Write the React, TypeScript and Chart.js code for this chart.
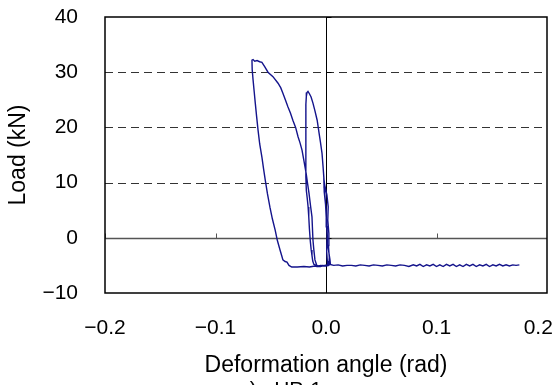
import React, { useEffect, useRef } from 'react';
import { Chart, registerables } from 'chart.js';

Chart.register(...registerables);

const xTickValues = [-0.2, -0.1, 0, 0.1, 0.2];
const xTickLabels = ['−0.2', '−0.1', '0.0', '0.1', '0.2'];
const yTickValues = [-10, 0, 10, 20, 30, 40];
const yTickLabels = ['−10', '0', '10', '20', '30', '40'];
const dashedGridValues = [10, 20, 30];

const xTitle = 'Deformation angle (rad)';
const yTitle = 'Load (kN)';
const caption = 'a)   HP-1';

const deformation = [
  0.004, 0.0036, 0.0027, 0.0018, 0.0012, 0.0009, 0.0002, -0.0009, -0.0014, -0.0018,
  -0.0027, -0.0036, -0.005, -0.0063, -0.008, -0.01, -0.0118, -0.0135, -0.015, -0.0163,
  -0.0172, -0.0178, -0.0182, -0.0183, -0.0183, -0.0182, -0.0181, -0.0178, -0.017, -0.0162,
  -0.0156, -0.015, -0.0142, -0.0134, -0.0127, -0.012, -0.011, -0.009, -0.006, -0.003,
  0.0, 0.0025,
  0.003, 0.0022, 0.0026, 0.0016, 0.002, 0.0008, -0.0012, -0.002, -0.0016, -0.0004,
  0.0004, 0.001, 0.0006, 0.0012, 0.0016,
  -0.002, -0.005, -0.008,
  -0.009, -0.01, -0.011, -0.0118, -0.0127, -0.014, -0.0154, -0.0168, -0.018, -0.02,
  -0.0217, -0.0235, -0.0253, -0.0275, -0.03, -0.0322, -0.0344, -0.0368, -0.039, -0.041,
  -0.0434, -0.048, -0.0525, -0.0555, -0.058, -0.06, -0.0624, -0.0645, -0.066, -0.067,
  -0.0668, -0.066, -0.065, -0.064, -0.0628, -0.0615, -0.06, -0.058, -0.0565, -0.055,
  -0.053, -0.0507, -0.0485, -0.046, -0.044, -0.0416, -0.04, -0.039, -0.037, -0.0353,
  -0.0335, -0.031,
  -0.026, -0.02, -0.015, -0.01, -0.005, -0.001, 0.003, 0.007, 0.011, 0.015,
  0.019, 0.023, 0.027, 0.031, 0.035, 0.039, 0.043, 0.047, 0.051, 0.055,
  0.059, 0.063, 0.067, 0.071, 0.075, 0.079, 0.082, 0.085, 0.088, 0.091,
  0.094, 0.097, 0.1, 0.103, 0.106, 0.109, 0.112, 0.115, 0.118, 0.121,
  0.124, 0.127, 0.13, 0.133, 0.136, 0.139, 0.142, 0.145, 0.148, 0.151,
  0.154, 0.157, 0.16, 0.163, 0.166, 0.169, 0.172, 0.175,
];

const load = [
  -4.8, -4.0, -2.8, -1.6, 0.3, 2.0, 4.8, 7.4, 9.2, 10.5,
  13.0, 15.3, 17.3, 19.0, 21.3, 23.0, 24.4, 25.5, 26.1, 26.5,
  26.3, 25.6, 24.2, 21.0, 17.0, 13.5, 11.0, 8.6, 7.2, 5.6,
  3.8, 1.6, -0.6, -2.2, -3.2, -4.2, -4.8, -5.0, -5.1, -5.0,
  -5.1, -5.0,
  -3.6, -1.4, 0.8, 3.2, 5.6, 7.8, 9.6, 10.8, 8.3, 6.0,
  3.0, 0.2, -2.4, -4.2, -5.0,
  -5.1, -5.0, -5.2,
  -4.6, -4.0, -2.2, -0.4, 3.8, 5.8, 8.1, 10.0, 11.7, 14.0,
  15.9, 17.2, 18.3, 20.0, 21.3, 22.6, 23.7, 25.0, 26.2, 27.2,
  28.0, 29.2, 30.0, 31.0, 31.8, 31.9, 32.1, 32.0, 32.3, 32.2,
  30.5, 28.6, 26.5, 24.4, 22.0, 19.5, 17.0, 14.6, 12.5, 10.5,
  8.0, 5.5, 3.4, 1.4, -0.5, -2.2, -3.3, -4.0, -4.3, -4.4,
  -5.0, -5.3,
  -5.3, -5.2, -5.3, -5.1, -5.2, -5.0, -4.8, -5.0, -4.9, -5.1,
  -5.0, -5.0, -5.1, -4.9, -5.0, -5.1, -4.9, -5.0, -5.1, -4.9,
  -5.0, -5.1, -4.9, -5.0, -5.2, -4.9, -5.1, -4.8, -5.2, -4.9,
  -5.1, -4.8, -5.2, -4.9, -5.2, -4.8, -5.1, -4.8, -5.2, -4.9,
  -5.2, -4.8, -5.1, -4.8, -5.2, -4.9, -5.1, -4.8, -5.2, -4.9,
  -5.1, -4.8, -5.1, -4.9, -5.1, -4.9, -5.0, -4.9,
];

const FONT_FAMILY = '"Liberation Sans", Arial, sans-serif';
const TICK_FONT_SIZE = 21;
const TITLE_FONT_SIZE = 23;

function labelIndex(values: number[], v: number): number {
  for (let i = 0; i < values.length; i++) {
    if (Math.abs(values[i] - v) < 1e-9) return i;
  }
  return -1;
}

function xLabel(v: number): string {
  const i = labelIndex(xTickValues, v);
  if (i < 0) return '';
  // the last label is pulled inside the picture, as in the reference
  return i === xTickValues.length - 1 ? xTickLabels[i] + '\u00a0\u00a0\u00a0' : xTickLabels[i];
}

function yLabel(v: number): string {
  const i = labelIndex(yTickValues, v);
  return i < 0 ? '' : yTickLabels[i];
}

const framePlugin = {
  id: 'framePlugin',
  beforeDatasetsDraw(chart: any) {
    const { ctx, chartArea, scales } = chart;
    const xs = scales.x;
    const ys = scales.y;
    ctx.save();
    ctx.beginPath();
    ctx.rect(chartArea.left, chartArea.top, chartArea.right - chartArea.left, chartArea.bottom - chartArea.top);
    ctx.clip();
    ctx.strokeStyle = '#333333';
    ctx.lineWidth = 1;
    ctx.setLineDash([8, 5]);
    dashedGridValues.forEach((v) => {
      const y = Math.round(ys.getPixelForValue(v)) + 0.5;
      ctx.beginPath();
      ctx.moveTo(chartArea.left, y);
      ctx.lineTo(chartArea.right, y);
      ctx.stroke();
    });
    ctx.setLineDash([]);
    const y0 = Math.round(ys.getPixelForValue(0)) + 0.5;
    ctx.strokeStyle = '#555555';
    ctx.lineWidth = 1.5;
    ctx.beginPath();
    ctx.moveTo(chartArea.left, y0);
    ctx.lineTo(chartArea.right, y0);
    ctx.stroke();
    ctx.lineWidth = 1;
    xTickValues.forEach((v) => {
      const x = Math.round(xs.getPixelForValue(v)) + 0.5;
      ctx.beginPath();
      ctx.moveTo(x, y0);
      ctx.lineTo(x, y0 - 5);
      ctx.stroke();
    });
    const x0 = Math.round(xs.getPixelForValue(0)) + 0.5;
    ctx.strokeStyle = '#000000';
    ctx.lineWidth = 1;
    ctx.beginPath();
    ctx.moveTo(x0, chartArea.top);
    ctx.lineTo(x0, chartArea.bottom);
    ctx.stroke();
    yTickValues.forEach((v) => {
      const y = Math.round(ys.getPixelForValue(v)) + 0.5;
      ctx.beginPath();
      ctx.moveTo(x0, y);
      ctx.lineTo(x0 + 5, y);
      ctx.stroke();
    });
    ctx.restore();
  },
  afterDatasetsDraw(chart: any) {
    const { ctx, chartArea } = chart;
    ctx.save();
    ctx.strokeStyle = '#000000';
    ctx.lineWidth = 1.5;
    ctx.strokeRect(chartArea.left, chartArea.top, chartArea.right - chartArea.left, chartArea.bottom - chartArea.top);
    ctx.restore();
  },
  afterDraw(chart: any) {
    const { ctx } = chart;
    ctx.save();
    ctx.fillStyle = '#000000';
    ctx.font = `${TICK_FONT_SIZE}px ${FONT_FAMILY}`;
    ctx.textAlign = 'left';
    ctx.textBaseline = 'top';
    ctx.fillText(caption, 238, 380);
    ctx.restore();
  },
};

export default function App() {
  const canvasRef = useRef<HTMLCanvasElement | null>(null);

  useEffect(() => {
    if (!canvasRef.current) return;
    const points = deformation.map((x, i) => ({ x, y: load[i] }));
    const tickFont = { family: FONT_FAMILY, size: TICK_FONT_SIZE, lineHeight: 1.2 };
    const titleFont = { family: FONT_FAMILY, size: TITLE_FONT_SIZE, lineHeight: 1.2 };
    const chart = new Chart(canvasRef.current, {
      type: 'scatter',
      data: {
        datasets: [
          {
            data: points,
            showLine: true,
            borderColor: '#14148c',
            borderWidth: 1.4,
            pointRadius: 0,
            tension: 0,
            fill: false,
          },
        ],
      },
      options: {
        animation: false,
        responsive: false,
        devicePixelRatio: 1,
        layout: { padding: { top: 17, right: 11, bottom: 0, left: 0 } },
        plugins: { legend: { display: false }, tooltip: { enabled: false } },
        scales: {
          x: {
            type: 'linear',
            min: -0.2,
            max: 0.2,
            afterBuildTicks: (s: any) => {
              s.ticks = xTickValues.map((v) => ({ value: v }));
            },
            afterFit: (s: any) => {
              s.height = 92;
              s.paddingLeft = 0;
              s.paddingRight = 0;
            },
            grid: { display: false, drawTicks: false },
            border: { display: false },
            ticks: {
              padding: 23,
              color: '#000000',
              font: tickFont,
              maxRotation: 0,
              autoSkip: false,
              callback: (v: any) => xLabel(Number(v)),
            },
            title: {
              display: true,
              text: xTitle,
              color: '#000000',
              font: titleFont,
              padding: { top: 0, bottom: 6 },
            },
          },
          y: {
            type: 'linear',
            min: -10,
            max: 40,
            afterBuildTicks: (s: any) => {
              s.ticks = yTickValues.map((v) => ({ value: v }));
            },
            afterFit: (s: any) => {
              s.width = 105;
              s.paddingTop = 0;
              s.paddingBottom = 0;
            },
            grid: { display: false, drawTicks: false },
            border: { display: false },
            ticks: {
              padding: 27,
              color: '#000000',
              font: tickFont,
              autoSkip: false,
              callback: (v: any) => yLabel(Number(v)),
            },
            title: {
              display: true,
              text: yTitle,
              color: '#000000',
              font: titleFont,
              padding: { top: 5, bottom: 0 },
            },
          },
        },
      },
      plugins: [framePlugin],
    });
    return () => chart.destroy();
  }, []);

  return (
    <div style={{ position: 'absolute', left: 0, top: 0, width: 558, height: 385 }}>
      <canvas ref={canvasRef} width={558} height={385} style={{ display: 'block', width: 558, height: 385 }} />
    </div>
  );
}
